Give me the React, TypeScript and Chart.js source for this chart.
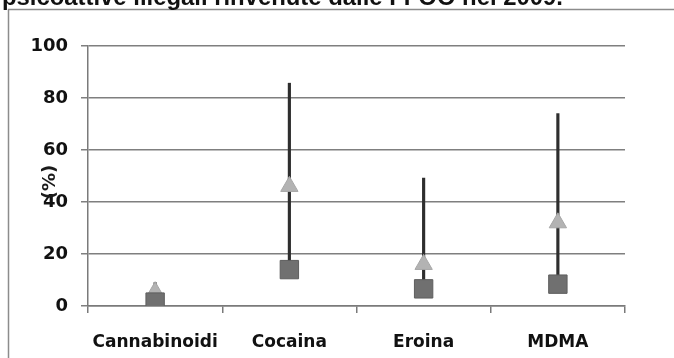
import React, { useEffect, useRef } from "react";
import { Chart, registerables } from "chart.js";

Chart.register(...registerables);

const categories = ["Cannabinoidi", "Cocaina", "Eroina", "MDMA"];
const lowValues = [1.5, 14, 6.6, 8.4];
const maxValues = [9, 85.7, 49.2, 74];
const meanValues = [5.5, 46, 16, 32];
const yTicks = [0, 20, 40, 60, 80, 100];
const titleText = "psicoattive illegali rinvenute dalle FFOO nel 2009.";
const yTitle = "(%)";

const framePlugin = {
  id: "frame",
  afterDraw(chart: any) {
    const ctx = chart.ctx;
    ctx.save();
    // frame border
    ctx.strokeStyle = "#8c8c8c";
    ctx.lineWidth = 1.5;
    ctx.beginPath();
    ctx.moveTo(8.5, 358);
    ctx.lineTo(8.5, 9.5);
    ctx.lineTo(674, 9.5);
    ctx.stroke();
    // cut-off title
    let size = 19;
    ctx.font = `bold ${size}px "Liberation Sans", Arial, sans-serif`;
    const w = ctx.measureText(titleText).width;
    size = size * 561 / w;
    ctx.font = `bold ${size}px "Liberation Sans", Arial, sans-serif`;
    ctx.fillStyle = "#111";
    ctx.textBaseline = "alphabetic";
    ctx.textAlign = "left";
    ctx.fillText(titleText, 2, 4.5);
    // y axis title
    ctx.translate(50, 182);
    ctx.rotate(-Math.PI / 2);
    ctx.font = `bold 18px "DejaVu Sans", sans-serif`;
    ctx.textAlign = "center";
    ctx.textBaseline = "middle";
    ctx.fillStyle = "#1a1a1a";
    ctx.fillText(yTitle, 0, 0);
    ctx.restore();
  },
};

export default function App() {
  const ref = useRef<HTMLCanvasElement | null>(null);
  useEffect(() => {
    if (!ref.current) return;
    const rangeData = lowValues.map((v, i) => [v, maxValues[i]]);
    const chart = new Chart(ref.current, {
      type: "bar",
      data: {
        labels: categories,
        datasets: [
          {
            type: "bar",
            label: "Range",
            data: rangeData as any,
            backgroundColor: "#2e2e2e",
            borderWidth: 0,
            barThickness: 2.5,
            order: 3,
          },
          {
            type: "line",
            label: "Media",
            data: meanValues,
            showLine: false,
            pointStyle: "triangle",
            pointRadius: 10,
            pointBackgroundColor: "#b3b3b3",
            pointBorderColor: "#a6a6a6",
            pointBorderWidth: 1,
            order: 2,
          },
          {
            type: "line",
            label: "Min",
            data: lowValues,
            showLine: false,
            pointStyle: "rect",
            pointRadius: 13,
            pointBackgroundColor: "#707070",
            pointBorderColor: "#5e5e5e",
            pointBorderWidth: 1,
            order: 1,
          },
        ],
      },
      options: {
        animation: false,
        responsive: false,
        maintainAspectRatio: false,
        layout: { padding: { top: 46, right: 49, left: 0, bottom: 0 } },
        plugins: {
          legend: { display: false },
          tooltip: { enabled: false },
          title: { display: false },
        },
        scales: {
          x: {
            offset: true,
            afterFit: (s: any) => {
              s.height = 52;
            },
            grid: {
              display: true,
              drawOnChartArea: false,
              drawTicks: true,
              tickLength: 7,
              color: "#7a7a7a",
              lineWidth: 1.5,
              offset: true,
            },
            border: { display: true, color: "#7a7a7a", width: 1.5 },
            ticks: {
              padding: 19,
              color: "#111",
              font: { family: "'DejaVu Sans', sans-serif", size: 17, weight: "bold" },
              maxRotation: 0,
            },
          },
          y: {
            min: 0,
            max: 100,
            afterFit: (s: any) => {
              s.width = 88;
            },
            afterBuildTicks: (s: any) => {
              s.ticks = yTicks.map((v) => ({ value: v }));
            },
            grid: {
              color: "#7f7f7f",
              lineWidth: 1.5,
              tickLength: 7,
              drawTicks: true,
            },
            border: { display: true, color: "#7a7a7a", width: 1.5 },
            ticks: {
              padding: 13,
              color: "#111",
              font: { family: "'DejaVu Sans', sans-serif", size: 18, weight: "bold" },
            },
          },
        },
      },
      plugins: [framePlugin],
    });
    return () => chart.destroy();
  }, []);
  return (
    <div style={{ position: "fixed", left: 0, top: 0, width: 674, height: 358, background: "#fff" }}>
      <canvas ref={ref} width={674} height={358} style={{ width: 674, height: 358 }} />
    </div>
  );
}
